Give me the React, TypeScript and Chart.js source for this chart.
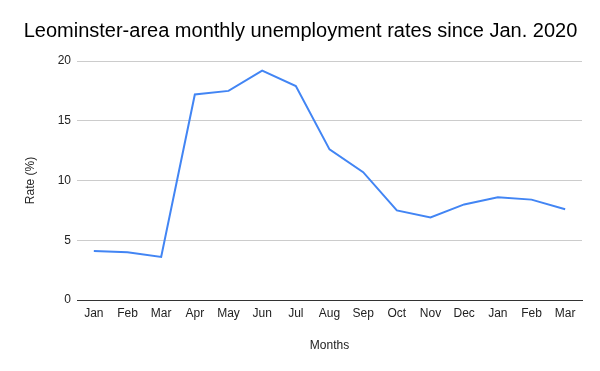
import React, { useEffect, useRef } from "react";
import { Chart, registerables } from "chart.js";

Chart.register(...registerables);

const months = ["Jan", "Feb", "Mar", "Apr", "May", "Jun", "Jul", "Aug", "Sep", "Oct", "Nov", "Dec", "Jan", "Feb", "Mar"];
const rates = [4.1, 4.0, 3.6, 17.2, 17.5, 19.2, 17.9, 12.6, 10.7, 7.5, 6.9, 8.0, 8.6, 8.4, 7.6];
const chartTitle = "Leominster-area monthly unemployment rates since Jan. 2020";
const xTitle = "Months";
const yTitle = "Rate (%)";

const FONT = "'Liberation Sans', Arial, sans-serif";

export default function App() {
  const ref = useRef<HTMLCanvasElement | null>(null);

  useEffect(() => {
    document.body.style.margin = "0";
    if (!ref.current) return;
    const chart = new Chart(ref.current, {
      type: "line",
      data: {
        labels: months,
        datasets: [
          {
            label: yTitle,
            data: rates,
            borderColor: "#4285F4",
            backgroundColor: "#4285F4",
            borderWidth: 2,
            pointRadius: 0,
            tension: 0,
            fill: false,
          },
        ],
      },
      options: {
        responsive: false,
        animation: false,
        layout: { padding: { left: 19, right: 18, top: 0, bottom: 14 } },
        plugins: {
          legend: { display: false },
          tooltip: { enabled: false },
          title: {
            display: true,
            text: chartTitle,
            color: "#000000",
            font: { family: FONT, size: 20, weight: "normal" },
            padding: { top: 19, bottom: 18 },
          },
        },
        scales: {
          x: {
            offset: true,
            grid: { display: false, drawTicks: false },
            border: { display: true, color: "#333333", width: 1 },
            ticks: {
              color: "#222222",
              font: { family: FONT, size: 12 },
              padding: 6,
              maxRotation: 0,
              autoSkip: false,
            },
            title: {
              display: true,
              text: xTitle,
              color: "#222222",
              font: { family: FONT, size: 12 },
              padding: { top: 4, bottom: 4 },
            },
            afterFit: (scale: any) => {
              scale.height = 57;
            },
          },
          y: {
            min: 0,
            max: 20,
            ticks: {
              stepSize: 5,
              color: "#222222",
              font: { family: FONT, size: 12 },
              padding: 6,
            },
            grid: { color: "#cccccc", drawTicks: false },
            border: { display: false },
            title: {
              display: true,
              text: yTitle,
              color: "#222222",
              font: { family: FONT, size: 12 },
              padding: { top: 4, bottom: 4 },
            },
            afterFit: (scale: any) => {
              scale.width = 58;
            },
          },
        },
      },
    });
    return () => chart.destroy();
  }, []);

  return (
    <div style={{ width: 600, height: 371, background: "#ffffff" }}>
      <canvas ref={ref} width={600} height={371} />
    </div>
  );
}
